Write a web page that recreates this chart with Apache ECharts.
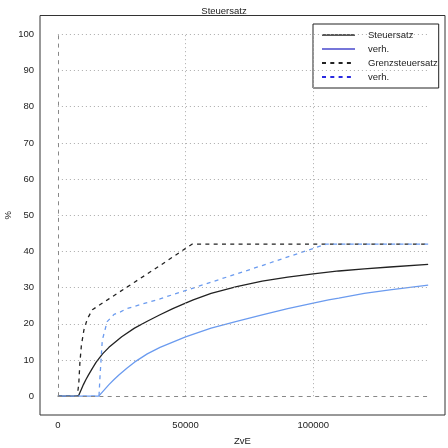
<!DOCTYPE html>
<html>
<head>
<meta charset="utf-8">
<script src="https://cdn.jsdelivr.net/npm/echarts@6/dist/echarts.min.js"></script>
<style>
  html, body { margin: 0; padding: 0; background: #fff; }
  #main { width: 448px; height: 448px; }
</style>
</head>
<body>
<div id="main"></div>
<script>
// Steuersatz (Grundtabelle) und verh. (Splitting), in % vom ZvE
var steuersatzX = [0, 8000, 9000, 10000, 11000, 12000, 13500, 15000, 17500, 20000, 25000, 30000, 35000, 40000, 45000, 50000, 53000, 60000, 70000, 80000, 90000, 100000, 110000, 120000, 130000, 145000];
var steuersatzY = [0, 0, 1.6, 3.2, 4.6, 5.9, 7.7, 9.4, 11.7, 13.5, 16.4, 18.8, 20.7, 22.5, 24.2, 25.7, 26.6, 28.4, 30.3, 31.8, 32.9, 33.8, 34.6, 35.2, 35.7, 36.4];

var verhX = [0, 16000, 18000, 20000, 22000, 24000, 27000, 30000, 35000, 40000, 50000, 60000, 70000, 80000, 90000, 100000, 106000, 110000, 120000, 130000, 145000];
var verhY = [0, 0, 1.6, 3.2, 4.6, 5.9, 7.7, 9.4, 11.7, 13.5, 16.4, 18.8, 20.7, 22.5, 24.2, 25.7, 26.6, 27.1, 28.4, 29.4, 30.7];

// Grenzsteuersatz
var grenzX = [0, 7600, 8200, 8600, 9200, 10200, 11500, 13500, 20000, 30000, 40000, 52500, 145000];
var grenzY = [0, 0, 3.6, 9, 14, 18.3, 21.3, 23.9, 26.9, 31.5, 36.1, 42, 42];

var grenzVerhX = [0, 16100, 16500, 17400, 19300, 22000, 24500, 27000, 40000, 60000, 80000, 105000, 145000];
var grenzVerhY = [0, 0, 5.5, 15.5, 20.6, 22.6, 23.3, 24.2, 26.9, 31.5, 36.1, 42, 42];

var xTicks = [0, 50000, 100000];
var yTicks = [0, 10, 20, 30, 40, 50, 60, 70, 80, 90, 100];
var xEnd = 145000;

function pairs(xs, ys) {
  return xs.map(function (x, i) { return [x, ys[i]]; });
}

var font = "'Liberation Sans', Arial, sans-serif";
var dash = [4, 4.3];
var gridLines = [];
yTicks.forEach(function (v) {
  if (v === 0) return;
  gridLines.push([{ coord: [0, v] }, { coord: [xEnd, v] }]);
});
xTicks.forEach(function (v) {
  if (v === 0) return;
  gridLines.push([{ coord: [v, 0] }, { coord: [v, 100] }]);
});
var dashed = { color: "#888", type: dash, width: 1 };
var axisLines = [
  [{ coord: [0, 0], lineStyle: dashed }, { coord: [xEnd, 0] }],
  [{ coord: [0, 0], lineStyle: dashed }, { coord: [0, 100] }]
];

var myChart = echarts.init(document.getElementById("main"));
myChart.setOption({
  animation: false,
  backgroundColor: "#fff",
  title: {
    text: "Steuersatz",
    left: "center",
    top: 1,
    textStyle: { fontSize: 9.5, fontWeight: "normal", color: "#222", fontFamily: font }
  },
  legend: {
    orient: "vertical",
    left: 313,
    top: 24,
    padding: [6, 1, 6, 8],
    itemWidth: 33,
    itemHeight: 8,
    itemGap: 4,
    borderColor: "#222",
    borderWidth: 1,
    backgroundColor: "#fff",
    itemStyle: { opacity: 0 },
    textStyle: { fontSize: 9.5, color: "#222", fontFamily: font, padding: [0, 0, 0, 8] },
    data: [
      { name: "Steuersatz", lineStyle: { color: "#222", width: 1.5 } },
      { name: "verh.", lineStyle: { color: "#4848cc", width: 1.5 } },
      { name: "Grenzsteuersatz" },
      { name: "verh. ", lineStyle: { color: "#2a2ae0" } }
    ]
  },
  grid: {
    left: 40,
    right: 3,
    top: 15.5,
    bottom: 33,
    containLabel: false,
    outerBoundsMode: "none",
    show: true,
    borderColor: "#333",
    borderWidth: 1
  },
  xAxis: {
    type: "value",
    min: -7000,
    max: 151600,
    name: "ZvE",
    nameLocation: "middle",
    nameGap: 21,
    nameMoveOverlap: false,
    nameTextStyle: { fontSize: 9.5, color: "#222", fontFamily: font },
    axisLine: { show: false },
    axisTick: { show: false },
    splitLine: { show: false },
    axisLabel: {
      customValues: xTicks,
      formatter: function (v) { return String(v); },
      fontSize: 9.5, color: "#222", fontFamily: font, margin: 5
    }
  },
  yAxis: {
    type: "value",
    min: -5.2,
    max: 105.2,
    name: "%",
    nameLocation: "middle",
    nameGap: 27,
    nameMoveOverlap: false,
    nameTextStyle: { fontSize: 9.5, color: "#222", fontFamily: font },
    axisLine: { show: false },
    axisTick: { show: false },
    splitLine: { show: false },
    axisLabel: {
      customValues: yTicks,
      formatter: function (v) { return String(v); },
      fontSize: 9.5, color: "#222", fontFamily: font, margin: 6
    }
  },
  series: [
    {
      name: "grid",
      type: "line",
      data: [[0, 0]],
      symbol: "none",
      lineStyle: { width: 0 },
      silent: true,
      z: 1,
      markLine: {
        silent: true,
        symbol: ["none", "none"],
        label: { show: false },
        lineStyle: { color: "#aaa", type: [1, 3], width: 1 },
        data: gridLines.concat(axisLines)
      }
    },
    {
      name: "Steuersatz",
      type: "line",
      data: pairs(steuersatzX, steuersatzY),
      symbol: "none",
      z: 3,
      lineStyle: { color: "#222", width: 1.3 },
      itemStyle: { color: "#222" }
    },
    {
      name: "verh.",
      type: "line",
      data: pairs(verhX, verhY),
      symbol: "none",
      z: 3,
      lineStyle: { color: "#6b9bef", width: 1.3 },
      itemStyle: { color: "#6b9bef" }
    },
    {
      name: "Grenzsteuersatz",
      type: "line",
      data: pairs(grenzX, grenzY),
      symbol: "none",
      z: 3,
      lineStyle: { color: "#222", width: 1.3, type: dash },
      itemStyle: { color: "#222" }
    },
    {
      name: "verh. ",
      type: "line",
      data: pairs(grenzVerhX, grenzVerhY),
      symbol: "none",
      z: 3,
      lineStyle: { color: "#6b9bef", width: 1.3, type: dash },
      itemStyle: { color: "#6b9bef" }
    }
  ]
});
</script>
</body>
</html>
